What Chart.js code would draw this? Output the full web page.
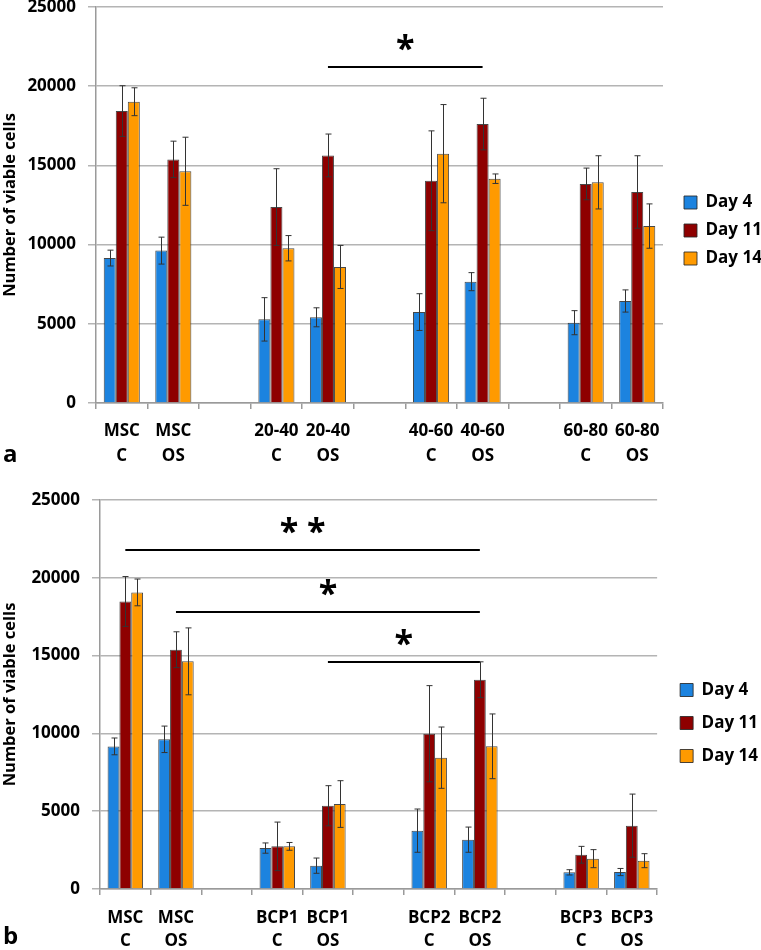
<!DOCTYPE html>
<html>
<head>
<meta charset="utf-8">
<script src="https://cdn.jsdelivr.net/npm/chart.js@4.4.1/dist/chart.umd.min.js"></script>
<style>
  body { margin: 0; background: #fff; }
  #wrap { position: relative; width: 761px; height: 950px; overflow: hidden; }
  .panel { position: absolute; left: 0; }
  .tag { position: absolute; left: 3px; font: bold 24px 'Open Sans', sans-serif; color: #000; }
</style>
</head>
<body>
<div id="wrap">
  <div class="panel" style="top:0"><canvas id="chartA" width="761" height="470"></canvas></div>
  <div class="panel" style="top:470px"><canvas id="chartB" width="761" height="480"></canvas></div>
  <div class="tag" style="top:436px">a</div>
  <div class="tag" style="top:918px">b</div>
</div>
<script>
// panel a
var labelsA = [["MSC","C"],["MSC","OS"],"",["20-40","C"],["20-40","OS"],"",["40-60","C"],["40-60","OS"],"",["60-80","C"],["60-80","OS"]];
var day4A     = [9150, 9620, null, 5280, 5410, null, 5740, 7660, null, 5070, 6440];
var day4ErrA  = [500, 850, null, 1370, 600, null, 1160, 570, null, 760, 700];
var day11A    = [18430, 15380, null, 12370, 15630, null, 14030, 17610, null, 13830, 13320];
var day11ErrA = [1600, 1150, null, 2420, 1350, null, 3150, 1630, null, 1000, 2290];
var day14A    = [19020, 14630, null, 9770, 8590, null, 15740, 14160, null, 13930, 11170];
var day14ErrA = [880, 2150, null, 800, 1360, null, 3100, 300, null, 1680, 1400];
var signifA   = [{from: 4, to: 7, level: 21200, text: "*"}];

// panel b
var labelsB = [["MSC","C"],["MSC","OS"],"",["BCP1","C"],["BCP1","OS"],"",["BCP2","C"],["BCP2","OS"],"",["BCP3","C"],["BCP3","OS"]];
var day4B     = [9165, 9620, null, 2630, 1500, null, 3750, 3170, null, 1070, 1090];
var day4ErrB  = [540, 850, null, 330, 490, null, 1390, 810, null, 170, 230];
var day11B    = [18480, 15380, null, 2740, 5350, null, 9980, 13450, null, 2200, 4070];
var day11ErrB = [1600, 1150, null, 1560, 1290, null, 3090, 1150, null, 540, 2030];
var day14B    = [19060, 14630, null, 2740, 5460, null, 8440, 9170, null, 1950, 1820];
var day14ErrB = [860, 2150, null, 250, 1500, null, 1970, 2080, null, 580, 450];
var signifB   = [
  {from: 0, to: 7, level: 21790, text: "* *"},
  {from: 1, to: 7, level: 17780, text: "*"},
  {from: 4, to: 7, level: 14590, text: "*"}
];

var seriesNames = ["Day 4", "Day 11", "Day 14"];
var seriesColors = ["#1c83df", "#8e0000", "#ff9a00"];
var yTicks = [0, 5000, 10000, 15000, 20000, 25000];

var font = "'Open Sans', sans-serif";

// error bars drawn from each bar's own x and the y scale
var errorBars = {
  id: "errorBars",
  afterDatasetsDraw: function (chart) {
    var ctx = chart.ctx;
    var y = chart.scales.y;
    var errs = chart.options.plugins.errorBars.errors;
    ctx.save();
    ctx.strokeStyle = "#333";
    ctx.lineWidth = 1;
    chart.data.datasets.forEach(function (ds, i) {
      var meta = chart.getDatasetMeta(i);
      meta.data.forEach(function (bar, j) {
        var v = ds.data[j];
        if (v === null) return;
        var e = errs[i][j];
        var x = Math.round(bar.x) + 0.5;
        var top = y.getPixelForValue(v + e);
        var bot = y.getPixelForValue(v - e);
        ctx.beginPath();
        ctx.moveTo(x, top); ctx.lineTo(x, bot);
        ctx.moveTo(x - 3, top); ctx.lineTo(x + 3, top);
        ctx.moveTo(x - 3, bot); ctx.lineTo(x + 3, bot);
        ctx.stroke();
      });
    });
    ctx.restore();
  }
};

// significance brackets
var signif = {
  id: "signif",
  afterDraw: function (chart) {
    var ctx = chart.ctx;
    var xs = chart.scales.x, ys = chart.scales.y;
    var list = chart.options.plugins.signif.items;
    ctx.save();
    ctx.strokeStyle = "#000";
    ctx.fillStyle = "#000";
    ctx.lineWidth = 2;
    ctx.font = "bold 34px " + font;
    ctx.textAlign = "center";
    ctx.textBaseline = "middle";
    list.forEach(function (s) {
      var x1 = xs.getPixelForValue(s.from), x2 = xs.getPixelForValue(s.to);
      var yy = Math.round(ys.getPixelForValue(s.level));
      ctx.beginPath();
      ctx.moveTo(x1, yy); ctx.lineTo(x2, yy);
      ctx.stroke();
      ctx.fillText(s.text, (x1 + x2) / 2, yy - 17);
    });
    ctx.restore();
  }
};

// nudge the legend block to where the original sits
var legendShift = {
  id: "legendShift",
  afterLayout: function (chart) {
    var o = chart.options.plugins.legendShift;
    var lg = chart.legend;
    lg.left += o.dx; lg.right += o.dx;
    lg.top += o.dy; lg.bottom += o.dy;
  }
};

function makeChart(id, labels, d4, d11, d14, e4, e11, e14, sig, cfg) {
  var datasets = [d4, d11, d14].map(function (d, i) {
    return {
      label: seriesNames[i],
      data: d,
      backgroundColor: seriesColors[i],
      borderColor: "rgba(40,40,40,0.85)",
      borderWidth: 1,
      categoryPercentage: 0.7,
      barPercentage: 1.0
    };
  });
  return new Chart(document.getElementById(id), {
    type: "bar",
    data: {labels: labels, datasets: datasets},
    options: {
      responsive: false,
      animation: false,
      layout: {padding: {left: 0, top: cfg.top, right: 0, bottom: 0}},
      plugins: {
        legend: {
          position: "right",
          maxWidth: cfg.legendW,
          labels: {
            boxWidth: 13, boxHeight: 13,
            padding: cfg.legendPad,
            color: "#000",
            font: {family: font, size: 17, weight: "bold"}
          }
        },
        tooltip: {enabled: false},
        errorBars: {errors: [e4, e11, e14]},
        signif: {items: sig},
        legendShift: {dx: cfg.dx, dy: cfg.dy}
      },
      scales: {
        x: {
          grid: {drawOnChartArea: false, offset: true, tickLength: 6, color: "#9a9a9a", lineWidth: 1.5},
          border: {color: "#9a9a9a", width: 1.5},
          ticks: {
            color: "#000", padding: cfg.xPad, maxRotation: 0, autoSkip: false,
            font: {family: font, size: 17, weight: "bold", lineHeight: cfg.lineH}
          },
          afterFit: function (s) { s.height = cfg.xH; }
        },
        y: {
          min: 0, max: 25000,
          afterBuildTicks: function (s) { s.ticks = yTicks.map(function (v) { return {value: v}; }); },
          grid: {color: "#b4b4b4", lineWidth: 1.5, tickLength: 8},
          border: {color: "#9a9a9a", width: 1.5},
          ticks: {
            color: "#000", padding: 12,
            font: {family: font, size: 17, weight: "bold"},
            callback: function (v) { return String(v); }
          },
          title: {
            display: true, text: "Number of viable cells", color: "#000",
            padding: 0,
            font: {family: font, size: 16.5, weight: "bold"}
          },
          afterFit: function (s) { s.width = cfg.yW; s.paddingTop = 0; s.paddingBottom = 0; }
        }
      }
    },
    plugins: [errorBars, signif, legendShift]
  });
}

makeChart("chartA", labelsA, day4A, day11A, day14A, day4ErrA, day11ErrA, day14ErrA, signifA,
  {top: 7, yW: 96, legendW: 98, xH: 67, xPad: 9, lineH: 1.5, legendPad: 11, dx: 10, dy: -8});
makeChart("chartB", labelsB, day4B, day11B, day14B, day4ErrB, day11ErrB, day14ErrB, signifB,
  {top: 30, yW: 100, legendW: 104, xH: 61, xPad: 11, lineH: 1.38, legendPad: 16, dx: 7, dy: -2});
</script>
</body>
</html>
